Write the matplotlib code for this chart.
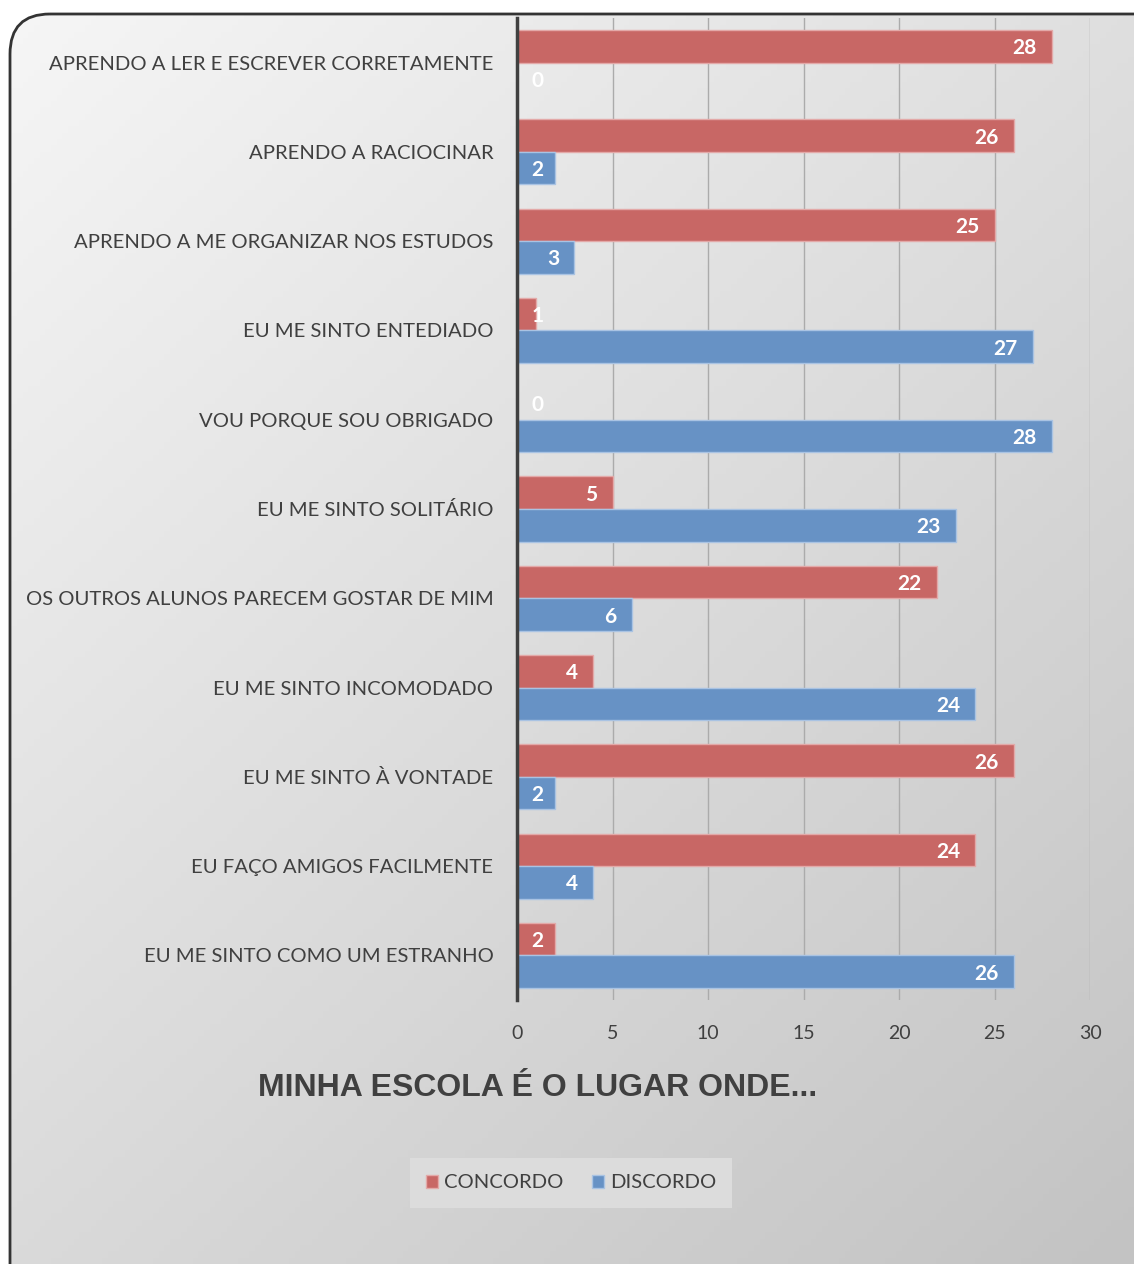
import matplotlib
matplotlib.use('Agg')
import numpy as np
import matplotlib.pyplot as plt
from matplotlib.patches import FancyBboxPatch, Patch
from matplotlib.colors import LinearSegmentedColormap

plt.rcParams['font.family'] = ['Lato', 'DejaVu Sans']

# dados
categorias = ["APRENDO A LER E ESCREVER CORRETAMENTE", "APRENDO A RACIOCINAR",
              "APRENDO A ME ORGANIZAR NOS ESTUDOS", "EU ME SINTO ENTEDIADO",
              "VOU PORQUE SOU OBRIGADO", "EU ME SINTO SOLITÁRIO",
              "OS OUTROS ALUNOS PARECEM GOSTAR DE MIM", "EU ME SINTO INCOMODADO",
              "EU ME SINTO À VONTADE", "EU FAÇO AMIGOS FACILMENTE",
              "EU ME SINTO COMO UM ESTRANHO"]
concordo = [28, 26, 25, 1, 0, 5, 22, 4, 26, 24, 2]
discordo = [0, 2, 3, 27, 28, 23, 6, 24, 2, 4, 26]
xticks = [0, 5, 10, 15, 20, 25, 30]

cor_conc = '#C86765'
cor_disc = '#6792C5'
texto = '#404040'

W, H = 1134, 1264
fig = plt.figure(figsize=(W / 100, H / 100), dpi=100)
fig.patch.set_facecolor('white')

# fundo com gradiente e borda arredondada
bg = fig.add_axes([0, 0, 1, 1])
bg.set_xlim(0, W)
bg.set_ylim(H, 0)
bg.axis('off')
caixa = FancyBboxPatch((10, 14), 1250, 1350, boxstyle="round,pad=0,rounding_size=40",
                       facecolor='none', edgecolor='#333333', linewidth=2, zorder=3)
bg.add_patch(caixa)
gx, gy = np.meshgrid(np.linspace(0, 1, 200), np.linspace(0, 1, 200))
grad = 0.45 * gx + 0.55 * gy
cmap = LinearSegmentedColormap.from_list('fundo', ['#f6f6f6', '#c3c3c3'])
img = bg.imshow(grad, cmap=cmap, extent=(0, W, H, 0), aspect='auto', zorder=1)
img.set_clip_path(caixa)

# grafico principal
ax = fig.add_axes([517 / W, (H - 1000) / H, (1090 - 517) / W, 982 / H])
ax.set_facecolor('none')
y = np.arange(len(categorias))
h = 0.365
ax.barh(y - h / 2, concordo, height=h, color=cor_conc, edgecolor='#e3a9a8', linewidth=1, zorder=3)
ax.barh(y + h / 2, discordo, height=h, color=cor_disc, edgecolor='#a9c3e3', linewidth=1, zorder=3)

for i in range(len(categorias)):
    for v, off in [(concordo[i], -h / 2), (discordo[i], h / 2)]:
        xpos = max(v, 2.2) - 0.8
        ax.text(xpos, i + off, str(v), ha='right', va='center_baseline', color='white',
                fontsize=15, fontweight='bold', zorder=4)

ax.set_xlim(0, 30)
ax.set_ylim(len(categorias) - 0.5, -0.5)
ax.set_xticks(xticks)
ax.set_yticks(y)
ax.set_yticklabels(categorias)
ax.tick_params(axis='both', length=0, labelsize=14, colors=texto)
ax.tick_params(axis='y', pad=17, labelsize=14.6)
ax.tick_params(axis='x', pad=18)
ax.grid(axis='x', color='#ababab', linewidth=1, zorder=0)
for s in ['top', 'right', 'bottom']:
    ax.spines[s].set_visible(False)
ax.spines['left'].set_color(texto)
ax.spines['left'].set_linewidth(2.5)
ax.spines['left'].set_zorder(5)

fig.text(538 / W, 1 - 1088 / H, "MINHA ESCOLA É O LUGAR ONDE...", ha='center', va='center',
         fontsize=23, fontweight='bold', color=texto, family=['Liberation Sans', 'DejaVu Sans'])

handles = [Patch(facecolor=cor_conc, edgecolor='#e3a9a8'), Patch(facecolor=cor_disc, edgecolor='#a9c3e3')]
leg = fig.legend(handles, ['CONCORDO', 'DISCORDO'], loc='center', bbox_to_anchor=(571 / W, 1 - 1183 / H),
                 ncol=2, fontsize=14.6, frameon=True, fancybox=False, handlelength=0.6, handleheight=0.6,
                 handletextpad=0.3, columnspacing=1.4, borderpad=0.8, borderaxespad=0)
leg.get_frame().set_facecolor('#dcdcdc')
leg.get_frame().set_edgecolor('none')
leg.get_frame().set_alpha(1)
for t in leg.get_texts():
    t.set_color(texto)

fig.savefig('out.png', dpi=100)
